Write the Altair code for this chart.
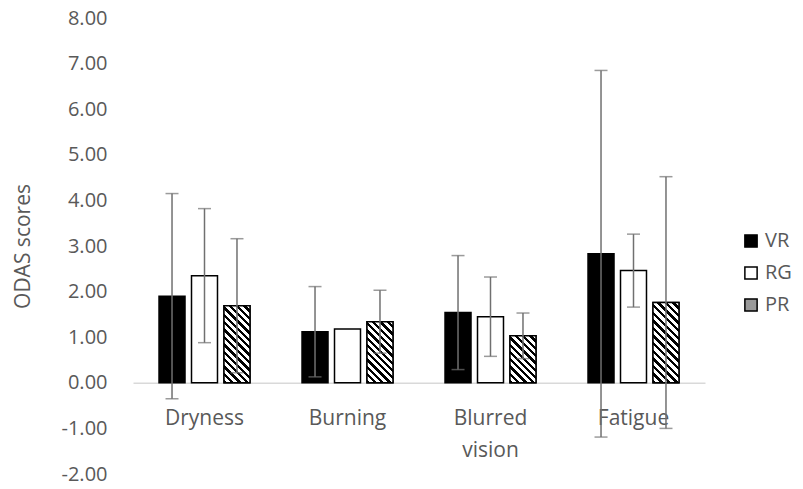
import math
import altair as alt
import pandas as pd

categories = ["Dryness", "Burning", "Blurred vision", "Fatigue"]
groups = ["VR", "RG", "PR"]
vr_mean = [1.90, 1.12, 1.54, 2.83]
vr_sd = [2.25, 0.99, 1.25, 4.02]
rg_mean = [2.35, 1.18, 1.45, 2.46]
rg_sd = [1.47, 0.0, 0.87, 0.80]
pr_mean = [1.69, 1.34, 1.03, 1.76]
pr_sd = [1.47, 0.69, 0.50, 2.76]

rows = []
for g, means, sds in [("VR", vr_mean, vr_sd), ("RG", rg_mean, rg_sd), ("PR", pr_mean, pr_sd)]:
    for c, m, s in zip(categories, means, sds):
        rows.append({"cat": c, "group": g, "mean": m, "sd": s, "lo": m - s, "hi": m + s})
df = pd.DataFrame(rows)

W, H = 572, 456
YMIN, YMAX = -2, 8
PI, PO = 0.364, 0.182
SUB_PI = 0.2
TXT = "#595959"
FONT = "Open Sans"

step = W / (len(categories) - PI + 2 * PO)
band = step * (1 - PI)
sub_step = band / (len(groups) - SUB_PI)
bar_w = sub_step * (1 - SUB_PI)
px_per_unit = H / (YMAX - YMIN)

x_enc = alt.X("cat:N", sort=categories, scale=alt.Scale(paddingInner=PI, paddingOuter=PO),
              axis=alt.Axis(title=None, domainColor="#d9d9d9", domainWidth=1.5, ticks=False,
                            labelFontSize=21, labelColor=TXT, labelFont=FONT, labelPadding=25,
                            labelAngle=0, offset=-px_per_unit * (0 - YMIN), labelLineHeight=32,
                            labelExpr="datum.label == 'Blurred vision' ? ['Blurred','vision'] : datum.label"))
xo_enc = alt.XOffset("group:N", sort=groups, scale=alt.Scale(domain=groups, paddingInner=SUB_PI, paddingOuter=0))
y_scale = alt.Scale(domain=[YMIN, YMAX], nice=False, zero=False)

base = alt.Chart(df)

bars = base.mark_bar(stroke="black", strokeWidth=1.5).encode(
    x=x_enc, xOffset=xo_enc,
    y=alt.Y("mean:Q", scale=y_scale,
            axis=alt.Axis(title="ODAS scores", values=list(range(YMIN, YMAX + 1)),
                          labelExpr="(datum.value < 0 ? '-' : '') + format(abs(datum.value), '.2f')",
                          grid=False, domain=False, ticks=False, labelFontSize=20, labelColor=TXT,
                          labelFont=FONT, labelPadding=26, titleFontSize=21, titleColor=TXT,
                          titleFont=FONT, titleFontWeight="normal", titleX=-110, titleY=H / 2,
                          titleAngle=270, titleAlign="center", titleBaseline="middle")),
    y2=alt.datum(0),
    fill=alt.Fill("group:N", sort=groups,
                  scale=alt.Scale(domain=groups, range=["black", "white", "#9a9a9a"]),
                  legend=alt.Legend(title=None, orient="none", legendX=608, legendY=213,
                                    symbolType="square", symbolSize=150, symbolStrokeColor="black",
                                    symbolStrokeWidth=1.5, labelFontSize=20, labelColor=TXT,
                                    labelFont=FONT, rowPadding=12, labelOffset=4)),
)

layers = [bars]

# hatched overlay for PR bars
for c, m in zip(categories, pr_mean):
    w = bar_w
    h = m * px_per_unit
    t = (w + h) / (w * w + h * h)
    x2 = t * w
    y2 = 1 - t * h
    L = (w + h) / math.sqrt(2)
    n = max(1, round(L / 5.2))
    stops = []
    for i in range(n):
        a = i / n
        b = (i + 0.45) / n
        e = (i + 1) / n
        stops += [{"offset": a, "color": "black"}, {"offset": b, "color": "black"},
                  {"offset": b, "color": "white"}, {"offset": e, "color": "white"}]
    grad = {"gradient": "linear", "x1": 0, "y1": 1, "x2": x2, "y2": y2, "stops": stops}
    layers.append(
        base.transform_filter((alt.datum.group == "PR") & (alt.datum.cat == c))
        .mark_bar(fill=grad, stroke="black", strokeWidth=1.5)
        .encode(x=x_enc, xOffset=xo_enc, y=alt.Y("mean:Q", scale=y_scale), y2=alt.datum(0))
    )

err = base.transform_filter(alt.datum.sd > 0)
ECOL = "#707070"
layers.append(err.mark_rule(color=ECOL, strokeWidth=1.5).encode(
    x=x_enc, xOffset=xo_enc, y=alt.Y("lo:Q", scale=y_scale), y2="hi:Q"))
layers.append(err.mark_tick(color=ECOL, thickness=1.5, size=13, orient="horizontal").encode(
    x=x_enc, xOffset=xo_enc, y=alt.Y("hi:Q", scale=y_scale)))
layers.append(err.mark_tick(color=ECOL, thickness=1.5, size=13, orient="horizontal").encode(
    x=x_enc, xOffset=xo_enc, y=alt.Y("lo:Q", scale=y_scale)))

chart = alt.layer(*layers).properties(
    width=W, height=H,
    autosize=alt.AutoSizeParams(type="none"),
    padding={"left": 125, "top": 10, "right": 90, "bottom": 7},
).configure(font=FONT).configure_view(stroke=None)

chart.save("out.html", embed_options={"renderer": "svg", "actions": False})
